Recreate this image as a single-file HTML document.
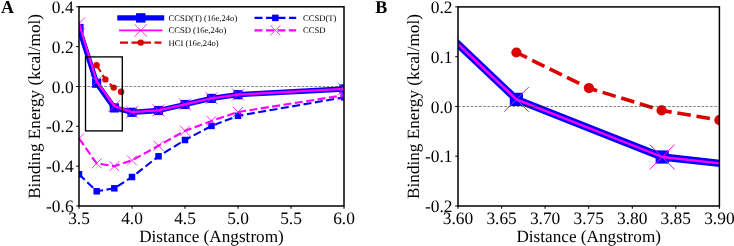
<!DOCTYPE html>
<html lang="en"><head><meta charset="utf-8"><title>Binding energy curves</title>
<style>
html,body{margin:0;padding:0;background:#fff;}
body{width:734px;height:246px;overflow:hidden;}
svg{display:block;will-change:transform;}
text{font-family:"Liberation Serif","Times New Roman",serif;fill:#000;text-rendering:geometricPrecision;}
.tk{font-size:17.4px;}
.lb{font-size:17.2px;}
.lg{font-size:8.6px;}
.pn{font-size:18px;font-weight:bold;}
</style></head><body>
<svg width="734" height="246" viewBox="0 0 734 246">
<rect width="734" height="246" fill="#fff"/>
<defs>
<clipPath id="ca"><rect x="79.0" y="6.8" width="265.0" height="199.2"/></clipPath>
<clipPath id="cb"><rect x="458.0" y="6.9" width="261.4" height="199.1"/></clipPath>
</defs>

<g clip-path="url(#ca)">
<polyline points="79.0,28.5 96.7,83.2 114.3,107.9 132.0,112.3 158.5,110.5 185.0,104.5 211.5,98.4 238.0,94.7 344.0,89.0" fill="none" stroke="#0000ff" stroke-width="5.3" stroke-linejoin="round" stroke-linecap="square"/>
<rect x="74.40" y="23.90" width="9.2" height="9.2" fill="#0000ff"/>
<rect x="92.07" y="78.60" width="9.2" height="9.2" fill="#0000ff"/>
<rect x="109.73" y="103.30" width="9.2" height="9.2" fill="#0000ff"/>
<rect x="127.40" y="107.70" width="9.2" height="9.2" fill="#0000ff"/>
<rect x="153.90" y="105.90" width="9.2" height="9.2" fill="#0000ff"/>
<rect x="180.40" y="99.90" width="9.2" height="9.2" fill="#0000ff"/>
<rect x="206.90" y="93.80" width="9.2" height="9.2" fill="#0000ff"/>
<rect x="233.40" y="90.10" width="9.2" height="9.2" fill="#0000ff"/>
<rect x="339.40" y="84.40" width="9.2" height="9.2" fill="#0000ff"/>
<polyline points="79.0,23.5 96.7,81.5 114.3,106.0 132.0,112.2 158.5,110.4 185.0,104.4 211.5,98.3 238.0,94.6 344.0,88.9" fill="none" stroke="#ff00ff" stroke-width="2.2" stroke-linejoin="round" stroke-linecap="square"/>
<path d="M73.00 17.50L85.00 29.50M73.00 29.50L85.00 17.50" stroke="#ff00ff" stroke-width="0.8" fill="none"/>
<path d="M90.67 75.50L102.67 87.50M90.67 87.50L102.67 75.50" stroke="#ff00ff" stroke-width="0.8" fill="none"/>
<path d="M108.33 100.00L120.33 112.00M108.33 112.00L120.33 100.00" stroke="#ff00ff" stroke-width="0.8" fill="none"/>
<path d="M126.00 106.20L138.00 118.20M126.00 118.20L138.00 106.20" stroke="#ff00ff" stroke-width="0.8" fill="none"/>
<path d="M152.50 104.40L164.50 116.40M152.50 116.40L164.50 104.40" stroke="#ff00ff" stroke-width="0.8" fill="none"/>
<path d="M179.00 98.40L191.00 110.40M179.00 110.40L191.00 98.40" stroke="#ff00ff" stroke-width="0.8" fill="none"/>
<path d="M205.50 92.30L217.50 104.30M205.50 104.30L217.50 92.30" stroke="#ff00ff" stroke-width="0.8" fill="none"/>
<path d="M232.00 88.60L244.00 100.60M232.00 100.60L244.00 88.60" stroke="#ff00ff" stroke-width="0.8" fill="none"/>
<path d="M338.00 82.90L350.00 94.90M338.00 94.90L350.00 82.90" stroke="#ff00ff" stroke-width="0.8" fill="none"/>
<polyline points="96.6,65.2 105.4,79.4 113.7,87.6 121.1,91.8" fill="none" stroke="#dd0000" stroke-width="2.1" stroke-dasharray="8 3.5"/>
<circle cx="96.60" cy="65.20" r="3.2" fill="#dd0000"/>
<circle cx="105.40" cy="79.40" r="3.2" fill="#dd0000"/>
<circle cx="113.70" cy="87.60" r="3.2" fill="#dd0000"/>
<circle cx="121.10" cy="91.80" r="3.2" fill="#dd0000"/>
<polyline points="79.0,174.3 96.7,191.3 114.3,188.3 132.0,177.0 158.5,156.3 185.0,140.0 211.5,125.9 238.0,115.8 344.0,97.3" fill="none" stroke="#0000ff" stroke-width="2.1" stroke-dasharray="8 3.5" stroke-linejoin="round"/>
<rect x="75.75" y="171.05" width="6.5" height="6.5" fill="#0000ff"/>
<rect x="93.42" y="188.05" width="6.5" height="6.5" fill="#0000ff"/>
<rect x="111.08" y="185.05" width="6.5" height="6.5" fill="#0000ff"/>
<rect x="128.75" y="173.75" width="6.5" height="6.5" fill="#0000ff"/>
<rect x="155.25" y="153.05" width="6.5" height="6.5" fill="#0000ff"/>
<rect x="181.75" y="136.75" width="6.5" height="6.5" fill="#0000ff"/>
<rect x="208.25" y="122.65" width="6.5" height="6.5" fill="#0000ff"/>
<rect x="234.75" y="112.55" width="6.5" height="6.5" fill="#0000ff"/>
<rect x="340.75" y="94.05" width="6.5" height="6.5" fill="#0000ff"/>
<polyline points="79.0,138.5 96.7,163.4 114.3,166.2 132.0,160.4 158.5,145.7 185.0,130.8 211.5,120.9 238.0,112.0 344.0,95.2" fill="none" stroke="#ff00ff" stroke-width="2.1" stroke-dasharray="8 3.5" stroke-linejoin="round"/>
<path d="M74.00 133.50L84.00 143.50M74.00 143.50L84.00 133.50" stroke="#ff00ff" stroke-width="0.8" fill="none"/>
<path d="M91.67 158.40L101.67 168.40M91.67 168.40L101.67 158.40" stroke="#ff00ff" stroke-width="0.8" fill="none"/>
<path d="M109.33 161.20L119.33 171.20M109.33 171.20L119.33 161.20" stroke="#ff00ff" stroke-width="0.8" fill="none"/>
<path d="M127.00 155.40L137.00 165.40M127.00 165.40L137.00 155.40" stroke="#ff00ff" stroke-width="0.8" fill="none"/>
<path d="M153.50 140.70L163.50 150.70M153.50 150.70L163.50 140.70" stroke="#ff00ff" stroke-width="0.8" fill="none"/>
<path d="M180.00 125.80L190.00 135.80M180.00 135.80L190.00 125.80" stroke="#ff00ff" stroke-width="0.8" fill="none"/>
<path d="M206.50 115.90L216.50 125.90M206.50 125.90L216.50 115.90" stroke="#ff00ff" stroke-width="0.8" fill="none"/>
<path d="M233.00 107.00L243.00 117.00M233.00 117.00L243.00 107.00" stroke="#ff00ff" stroke-width="0.8" fill="none"/>
<path d="M339.00 90.20L349.00 100.20M339.00 100.20L349.00 90.20" stroke="#ff00ff" stroke-width="0.8" fill="none"/>
<line x1="79.0" y1="86.5" x2="344.0" y2="86.5" stroke="#222" stroke-width="0.55" stroke-dasharray="2.7 1.5"/>
</g>
<rect x="85.5" y="56.9" width="36.8" height="74.0" fill="none" stroke="#000" stroke-width="1.35"/>
<rect x="79.0" y="6.8" width="265.0" height="199.2" fill="none" stroke="#000" stroke-width="1.5"/>
<line x1="76.2" y1="6.8" x2="79.0" y2="6.8" stroke="#000" stroke-width="1"/>
<text class="tk" x="73.6" y="12.9" text-anchor="end">0.4</text>
<line x1="76.2" y1="46.6" x2="79.0" y2="46.6" stroke="#000" stroke-width="1"/>
<text class="tk" x="73.6" y="52.7" text-anchor="end">0.2</text>
<line x1="76.2" y1="86.5" x2="79.0" y2="86.5" stroke="#000" stroke-width="1"/>
<text class="tk" x="73.6" y="92.6" text-anchor="end">0.0</text>
<line x1="76.2" y1="126.3" x2="79.0" y2="126.3" stroke="#000" stroke-width="1"/>
<text class="tk" x="73.6" y="132.4" text-anchor="end">-0.2</text>
<line x1="76.2" y1="166.2" x2="79.0" y2="166.2" stroke="#000" stroke-width="1"/>
<text class="tk" x="73.6" y="172.3" text-anchor="end">-0.4</text>
<line x1="76.2" y1="206.0" x2="79.0" y2="206.0" stroke="#000" stroke-width="1"/>
<text class="tk" x="73.6" y="212.1" text-anchor="end">-0.6</text>
<line x1="79.0" y1="206.0" x2="79.0" y2="208.8" stroke="#000" stroke-width="1"/>
<text class="tk" x="79.0" y="223.7" text-anchor="middle">3.5</text>
<line x1="132.0" y1="206.0" x2="132.0" y2="208.8" stroke="#000" stroke-width="1"/>
<text class="tk" x="132.0" y="223.7" text-anchor="middle">4.0</text>
<line x1="185.0" y1="206.0" x2="185.0" y2="208.8" stroke="#000" stroke-width="1"/>
<text class="tk" x="185.0" y="223.7" text-anchor="middle">4.5</text>
<line x1="238.0" y1="206.0" x2="238.0" y2="208.8" stroke="#000" stroke-width="1"/>
<text class="tk" x="238.0" y="223.7" text-anchor="middle">5.0</text>
<line x1="291.0" y1="206.0" x2="291.0" y2="208.8" stroke="#000" stroke-width="1"/>
<text class="tk" x="291.0" y="223.7" text-anchor="middle">5.5</text>
<line x1="344.0" y1="206.0" x2="344.0" y2="208.8" stroke="#000" stroke-width="1"/>
<text class="tk" x="344.0" y="223.7" text-anchor="middle">6.0</text>
<text class="lb" x="211.5" y="242" text-anchor="middle">Distance (Angstrom)</text>
<text class="lb" transform="translate(40.3 106.4) rotate(-90)" text-anchor="middle">Binding Energy (kcal/mol)</text>
<text class="pn" x="1" y="13.2">A</text>
<line x1="120" y1="17.9" x2="161.5" y2="17.9" stroke="#0000ff" stroke-width="5.4" stroke-linecap="square"/>
<rect x="136.05" y="13.20" width="9.4" height="9.4" fill="#0000ff"/>
<line x1="120" y1="30.4" x2="161.5" y2="30.4" stroke="#ff00ff" stroke-width="1.9" stroke-linecap="square"/>
<path d="M134.45 24.10L147.05 36.70M134.45 36.70L147.05 24.10" stroke="#ff00ff" stroke-width="0.8" fill="none"/>
<line x1="120" y1="42.6" x2="161.5" y2="42.6" stroke="#dd0000" stroke-width="2.1" stroke-linecap="butt" stroke-dasharray="8 3.5"/>
<circle cx="140.75" cy="42.60" r="3.2" fill="#dd0000"/>
<text class="lg" x="168.5" y="20.9">CCSD(T) (16e,24o)</text>
<text class="lg" x="168.5" y="33.4">CCSD (16e,24o)</text>
<text class="lg" x="168.5" y="45.8">HCI (16e,24o)</text>
<line x1="254.5" y1="17.9" x2="296.2" y2="17.9" stroke="#0000ff" stroke-width="2.1" stroke-linecap="butt" stroke-dasharray="8 3.5"/>
<rect x="272.10" y="14.65" width="6.5" height="6.5" fill="#0000ff"/>
<line x1="254.5" y1="30.4" x2="296.2" y2="30.4" stroke="#ff00ff" stroke-width="2.1" stroke-linecap="butt" stroke-dasharray="8 3.5"/>
<path d="M270.35 25.40L280.35 35.40M270.35 35.40L280.35 25.40" stroke="#ff00ff" stroke-width="0.8" fill="none"/>
<text class="lg" x="303" y="20.9">CCSD(T)</text>
<text class="lg" x="303" y="33.4">CCSD</text>
<g clip-path="url(#cb)">
<polyline points="439.5,26.6 516.4,99.4 662.2,157.0 740.0,165.6" fill="none" stroke="#0000ff" stroke-width="7.3" stroke-linejoin="round"/>
<rect x="509.80" y="92.80" width="13.2" height="13.2" fill="#0000ff"/>
<rect x="655.60" y="150.40" width="13.2" height="13.2" fill="#0000ff"/>
<polyline points="439.5,26.6 516.4,99.4 662.2,157.0 740.0,165.6" fill="none" stroke="#ff00ff" stroke-width="2.4" stroke-linejoin="round"/>
<path d="M504.00 87.00L528.80 111.80M504.00 111.80L528.80 87.00" stroke="#ff00ff" stroke-width="1.0" fill="none"/>
<path d="M649.80 144.60L674.60 169.40M649.80 169.40L674.60 144.60" stroke="#ff00ff" stroke-width="1.0" fill="none"/>
<polyline points="516.4,52.5 589.0,88.2 661.6,110.4 719.4,120.2" fill="none" stroke="#dd0000" stroke-width="3.6" stroke-dasharray="13.6 5.8" stroke-dashoffset="1.8"/>
<circle cx="516.40" cy="52.50" r="5.1" fill="#dd0000"/>
<circle cx="589.00" cy="88.20" r="5.1" fill="#dd0000"/>
<circle cx="661.60" cy="110.40" r="5.1" fill="#dd0000"/>
<circle cx="719.40" cy="120.20" r="5.1" fill="#dd0000"/>
<line x1="458.0" y1="106.5" x2="719.4" y2="106.5" stroke="#222" stroke-width="0.55" stroke-dasharray="2.7 1.5"/>
</g>
<rect x="458.0" y="6.9" width="261.4" height="199.1" fill="none" stroke="#000" stroke-width="1.5"/>
<line x1="455.2" y1="6.9" x2="458.0" y2="6.9" stroke="#000" stroke-width="1"/>
<text class="tk" x="452.5" y="13.0" text-anchor="end">0.2</text>
<line x1="455.2" y1="56.7" x2="458.0" y2="56.7" stroke="#000" stroke-width="1"/>
<text class="tk" x="452.5" y="62.8" text-anchor="end">0.1</text>
<line x1="455.2" y1="106.5" x2="458.0" y2="106.5" stroke="#000" stroke-width="1"/>
<text class="tk" x="452.5" y="112.5" text-anchor="end">0.0</text>
<line x1="455.2" y1="156.2" x2="458.0" y2="156.2" stroke="#000" stroke-width="1"/>
<text class="tk" x="452.5" y="162.3" text-anchor="end">-0.1</text>
<line x1="455.2" y1="206.0" x2="458.0" y2="206.0" stroke="#000" stroke-width="1"/>
<text class="tk" x="452.5" y="212.1" text-anchor="end">-0.2</text>
<line x1="458.0" y1="206.0" x2="458.0" y2="208.8" stroke="#000" stroke-width="1"/>
<text class="tk" x="458.0" y="223.7" text-anchor="middle">3.60</text>
<line x1="501.6" y1="206.0" x2="501.6" y2="208.8" stroke="#000" stroke-width="1"/>
<text class="tk" x="501.6" y="223.7" text-anchor="middle">3.65</text>
<line x1="545.1" y1="206.0" x2="545.1" y2="208.8" stroke="#000" stroke-width="1"/>
<text class="tk" x="545.1" y="223.7" text-anchor="middle">3.70</text>
<line x1="588.7" y1="206.0" x2="588.7" y2="208.8" stroke="#000" stroke-width="1"/>
<text class="tk" x="588.7" y="223.7" text-anchor="middle">3.75</text>
<line x1="632.3" y1="206.0" x2="632.3" y2="208.8" stroke="#000" stroke-width="1"/>
<text class="tk" x="632.3" y="223.7" text-anchor="middle">3.80</text>
<line x1="675.8" y1="206.0" x2="675.8" y2="208.8" stroke="#000" stroke-width="1"/>
<text class="tk" x="675.8" y="223.7" text-anchor="middle">3.85</text>
<line x1="719.4" y1="206.0" x2="719.4" y2="208.8" stroke="#000" stroke-width="1"/>
<text class="tk" x="719.4" y="223.7" text-anchor="middle">3.90</text>
<text class="lb" x="588.7" y="242" text-anchor="middle">Distance (Angstrom)</text>
<text class="lb" transform="translate(419.3 106.5) rotate(-90)" text-anchor="middle">Binding Energy (kcal/mol)</text>
<text class="pn" x="375.2" y="13.2">B</text>
</svg></body></html>
